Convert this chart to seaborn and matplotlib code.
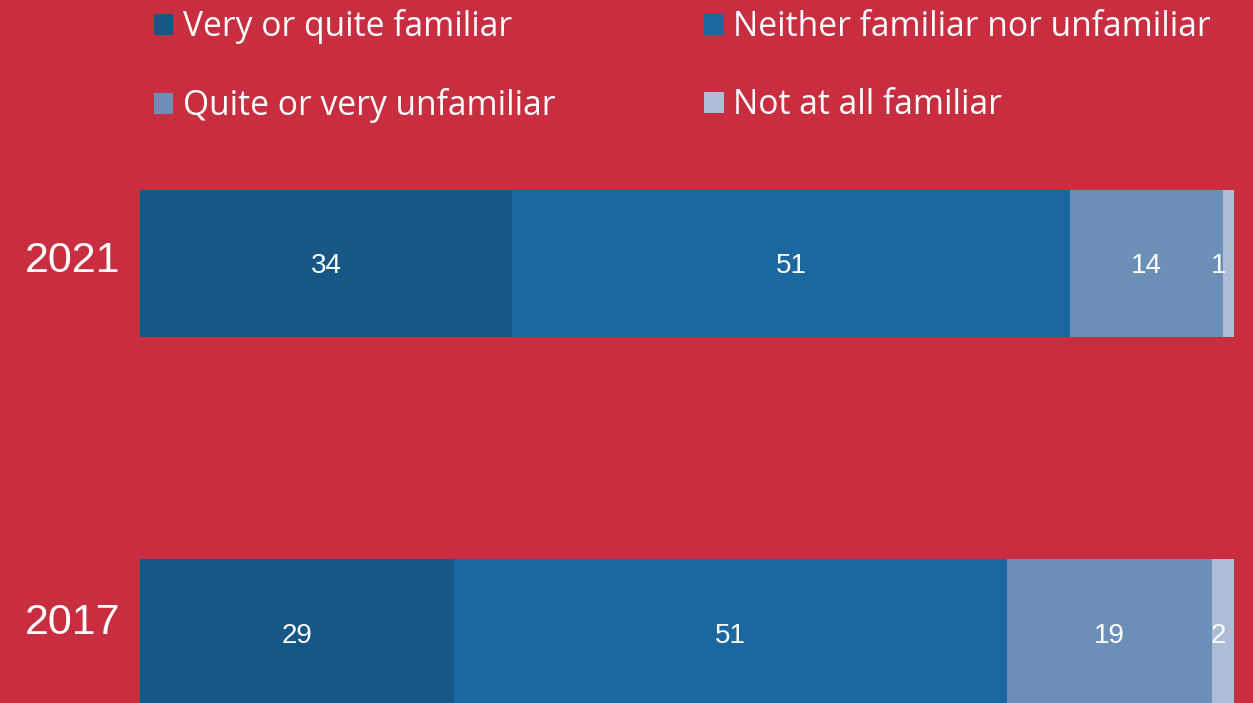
import matplotlib
matplotlib.use("Agg")
import matplotlib.pyplot as plt
from matplotlib.patches import Patch
import seaborn as sns
import pandas as pd
import numpy as np

years = ["2021", "2017"]
categories = ["Very or quite familiar", "Neither familiar nor unfamiliar",
              "Quite or very unfamiliar", "Not at all familiar"]
very_quite = [34, 29]
neither = [51, 51]
unfamiliar = [14, 19]
not_at_all = [1, 2]

colors = ["#165786", "#1B67A0", "#6B8FB7", "#ADBDD5"]
bg = "#C92D40"

sns.set_theme(style="white")
plt.rcParams["font.family"] = ["Liberation Sans", "DejaVu Sans"]

vals = np.array([very_quite, neither, unfamiliar, not_at_all], dtype=float).T
shares = vals / vals.sum(axis=1, keepdims=True) * 100
cum = np.cumsum(shares, axis=1)

fig = plt.figure(figsize=(12.53, 7.03), dpi=100, facecolor=bg)
ax = fig.add_axes([0, 0, 1, 1])
ax.set_facecolor(bg)

# stacked bars by overlaying cumulative totals, largest first
for i in range(len(categories) - 1, -1, -1):
    df = pd.DataFrame({"year": years, "value": cum[:, i]})
    sns.barplot(data=df, x="value", y="year", orient="h", color=colors[i],
                saturation=1, width=0.4, ax=ax, linewidth=0, order=years)

# segment labels
for r in range(len(years)):
    left = 0
    for i in range(len(categories)):
        w = shares[r, i]
        mid = left + w / 2
        txt = f"{int(vals[r, i])}"
        if w < 4:
            ax.text(99.3, r, txt, ha="right", va="center_baseline", color="white", fontsize=20)
        else:
            ax.text(mid, r, txt, ha="center", va="center_baseline", color="white", fontsize=20)
        left += w

# year labels (category axis labels, slightly above bar centres)
year_offsets_px = [7, 14]
for r, y in enumerate(years):
    ax.annotate(y, (-6.17, r), xytext=(0, year_offsets_px[r]), textcoords="offset pixels",
                ha="center", va="center_baseline", color="white", fontsize=31)

ax.set_xlim(-12.797, 101.737)
ax.set_ylim(1.191, -0.714)
ax.axis("off")

handles = [Patch(facecolor=c, edgecolor="none") for c in colors]
order = [0, 2, 1, 3]
leg = fig.legend([handles[i] for i in order], [categories[i] for i in order],
                 ncol=2, loc="upper left", bbox_to_anchor=(154 / 1253, 1 - 9 / 703),
                 frameon=False, labelcolor="white",
                 handlelength=0.58, handleheight=0.58, handletextpad=0.27,
                 labelspacing=1.32, columnspacing=4.44, borderpad=0, borderaxespad=0,
                 prop={"family": ["Open Sans", "DejaVu Sans"], "size": 24.2})

fig.savefig("out.png", dpi=100, facecolor=bg)
